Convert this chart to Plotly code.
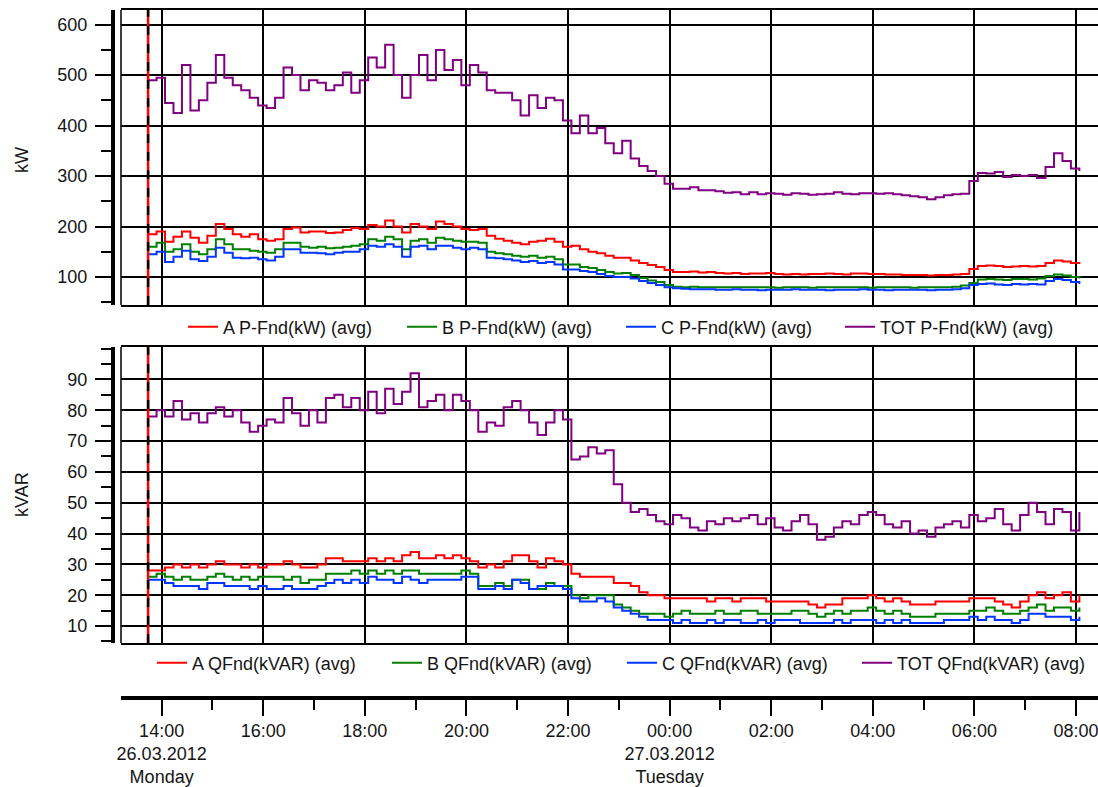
import pandas as pd
import plotly.graph_objects as go

W, H = 1098, 787

# ---------------- data (10-minute averages) ----------------
times = pd.date_range("2012-03-26 13:44", periods=111, freq="10min")

A_kw = [185,190,170,180,190,178,168,182,205,195, 185,180,185,175,172,175,195,198,188,190,
        190,187,188,193,197,195,203,200,212,200, 188,205,200,195,210,205,200,195,193,195,
        182,176,172,168,165,170,172,176,170,160, 162,155,150,147,142,138,138,133,128,124,
        120,114,110,110,111,109,110,108,107,108, 106,107,107,108,106,105,106,105,106,106,
        107,106,105,107,107,106,106,105,105,104, 104,104,103,104,104,105,106,116,122,123,
        122,120,121,122,121,122,128,133,131,128, 126]
B_kw = [160,168,150,155,165,150,145,155,175,165, 155,155,152,150,148,155,168,168,160,158,
        160,157,158,160,162,165,175,172,180,175, 155,172,175,168,178,175,172,170,170,168,
        150,147,145,142,140,142,138,140,135,125, 125,120,118,114,110,107,108,104,98,93,
        90,84,81,80,81,80,80,80,80,80, 80,80,80,80,79,80,80,80,79,80,
        80,80,80,80,80,79,80,80,80,80, 79,80,80,80,80,81,83,88,95,96,
        95,94,96,96,95,97,102,105,103,100, 97]
C_kw = [145,150,130,140,152,135,132,140,158,148, 138,137,138,135,133,140,155,155,148,148,
        147,145,148,150,150,155,162,160,165,160, 140,160,162,155,162,162,158,155,158,155,
        138,137,135,133,130,132,128,130,125,115, 115,112,110,106,102,100,100,97,92,88,
        84,80,78,77,76,76,76,75,75,76, 75,75,74,75,75,75,76,75,75,75,
        74,75,75,75,76,75,75,74,75,75, 75,75,74,75,75,76,78,84,86,87,
        85,84,86,85,86,85,92,96,94,90, 86]
TOT_kw = [490,495,445,425,520,430,450,485,540,495, 480,470,455,440,435,455,515,500,470,490,
          485,470,480,505,465,490,535,515,560,500, 455,500,540,490,550,510,530,480,520,505,
          470,465,465,450,420,460,435,455,450,410, 385,420,385,395,365,345,370,335,320,310,
          300,285,275,275,278,272,272,270,267,268, 264,268,264,266,265,263,266,265,263,264,
          265,268,265,264,266,266,265,266,264,262, 260,258,254,258,262,264,265,290,306,305,
          308,298,302,300,302,296,318,345,330,315, 310]

A_q = [28,28,29,30,29,30,29,30,31,30, 30,29,30,29,30,30,31,30,29,29,
       30,32,32,31,31,31,32,31,32,31, 33,34,32,32,33,32,33,32,31,29,
       30,29,31,33,33,31,29,32,31,30, 27,26,26,26,26,24,24,23,21,20,
       20,19,19,19,19,19,18,19,19,18, 19,19,19,18,18,18,18,18,17,16,
       17,17,19,19,19,20,19,18,19,18, 17,17,17,18,18,18,18,19,19,19,
       18,17,16,18,20,21,19,20,21,18, 20]
B_q = [26,27,26,25,26,25,25,26,27,26, 25,26,25,26,26,26,25,26,24,25,
       25,27,27,27,28,27,28,27,28,27, 28,28,27,27,27,27,27,28,27,23,
       23,24,23,25,25,22,22,24,23,23, 20,19,20,20,20,17,16,15,14,14,
       14,13,14,15,14,14,14,15,14,14, 15,15,14,14,14,14,15,15,14,13,
       14,15,14,15,15,16,15,14,15,14, 13,13,13,14,14,14,14,15,15,16,
       15,14,14,15,16,17,15,16,16,15, 16]
C_q = [25,25,24,23,23,23,22,24,24,23, 23,23,22,23,22,22,23,22,22,22,
       23,24,25,24,25,24,26,25,25,24, 26,25,24,25,25,25,25,26,26,22,
       22,23,22,25,24,22,23,23,23,22, 19,18,18,19,18,16,15,14,13,12,
       12,12,11,12,11,11,12,11,12,12, 11,11,12,11,12,12,12,11,11,11,
       11,12,11,12,12,12,11,12,11,12, 11,11,11,11,12,12,12,13,12,13,
       12,12,11,12,14,14,13,13,13,12, 13]
TOT_q = [78,80,78,83,77,79,76,79,81,78, 80,76,73,75,77,76,84,79,75,80,
         76,84,85,81,84,80,86,79,87,82, 86,92,81,83,85,80,85,83,80,73,
         76,75,81,83,80,76,72,76,80,77, 64,65,68,66,67,56,50,47,48,46,
         44,43,46,45,42,41,44,43,45,44, 45,46,43,45,42,41,44,46,43,38,
         39,42,44,43,46,47,46,43,42,44, 40,41,39,42,43,44,42,46,44,45,
         48,43,41,46,50,47,43,48,47,41, 47]

kw_names = ["A P-Fnd(kW) (avg)", "B P-Fnd(kW) (avg)", "C P-Fnd(kW) (avg)", "TOT P-Fnd(kW) (avg)"]
q_names = ["A QFnd(kVAR) (avg)", "B QFnd(kVAR) (avg)", "C QFnd(kVAR) (avg)", "TOT QFnd(kVAR) (avg)"]
colors = ["#ff0000", "#008000", "#0036ff", "#800080"]

kw_ticks = [100, 200, 300, 400, 500, 600]
q_ticks = [10, 20, 30, 40, 50, 60, 70, 80, 90]
time_ticks = pd.date_range("2012-03-26 14:00", periods=10, freq="2h")
time_labels = ["14:00<br>26.03.2012<br>Monday", "16:00", "18:00", "20:00", "22:00",
               "00:00<br>27.03.2012<br>Tuesday", "02:00", "04:00", "06:00", "08:00"]
x_range = ["2012-03-26 13:12", "2012-03-27 08:26"]
kw_range = [44.6, 629]
q_range = [4.5, 100.5]

# ---------------- figure ----------------
FONT = "Liberation Sans, Arial, sans-serif"
TXT = "#151515"
fig = go.Figure()

for ys, nm, c in zip([A_kw, B_kw, C_kw, TOT_kw], kw_names, colors):
    fig.add_trace(go.Scatter(x=times, y=ys, name=nm, mode="lines", line=dict(color=c, width=2, shape="hv"),
                             xaxis="x", yaxis="y", legend="legend"))
for ys, nm, c in zip([A_q, B_q, C_q, TOT_q], q_names, colors):
    fig.add_trace(go.Scatter(x=times, y=ys, name=nm, mode="lines", line=dict(color=c, width=2, shape="hv"),
                             xaxis="x2", yaxis="y2", legend="legend2"))
# invisible helpers so the decorative axes render
fig.add_trace(go.Scatter(x=times, y=TOT_kw, xaxis="x", yaxis="y3", mode="lines", opacity=0,
                         showlegend=False, hoverinfo="skip"))
fig.add_trace(go.Scatter(x=times, y=TOT_q, xaxis="x2", yaxis="y4", mode="lines", opacity=0,
                         showlegend=False, hoverinfo="skip"))
fig.add_trace(go.Scatter(x=times, y=[0.5] * len(times), xaxis="x3", yaxis="y5", mode="lines", opacity=0,
                         showlegend=False, hoverinfo="skip"))

xdom = [121 / W, 1.0]
def py(p):
    return 1 - p / H

grid_x = dict(domain=xdom, range=x_range, type="date", tickmode="array", tickvals=time_ticks,
              showticklabels=False, ticks="", showgrid=True, gridcolor="black", gridwidth=1.5,
              showline=True, mirror=True, linecolor="black", linewidth=1.5, zeroline=False,
              automargin=False)
grid_y = dict(showticklabels=False, ticks="", showgrid=True, gridcolor="black", gridwidth=1.5,
              showline=False, zeroline=False, tickmode="array", automargin=False)
tick_y = dict(anchor="free", position=113 / W, side="left", showgrid=False, zeroline=False,
              showline=True, linecolor="black", linewidth=4, ticks="outside", ticklen=16, tickwidth=2,
              tickcolor="black", tickmode="array", ticklabelstandoff=4, automargin=False,
              tickfont=dict(family=FONT, size=18, color=TXT))

fig.update_layout(
    width=W, height=H, margin=dict(l=0, r=0, t=0, b=0, autoexpand=False),
    paper_bgcolor="white", plot_bgcolor="white",
    font=dict(family=FONT, size=18, color=TXT),
    xaxis=dict(grid_x, anchor="y"),
    xaxis2=dict(grid_x, anchor="y2", matches="x"),
    yaxis=dict(grid_y, domain=[py(305), py(10)], range=kw_range, tickvals=kw_ticks),
    yaxis2=dict(grid_y, domain=[py(643), py(347)], range=q_range, tickvals=q_ticks),
    yaxis3=dict(tick_y, overlaying="y", range=kw_range, tickvals=kw_ticks,
                minor=dict(tickmode="linear", tick0=0, dtick=50, ticklen=10, tickwidth=2, tickcolor="black",
                           ticks="outside", showgrid=False)),
    yaxis4=dict(tick_y, overlaying="y2", range=q_range, tickvals=q_ticks,
                minor=dict(tickmode="linear", tick0=0, dtick=5, ticklen=10, tickwidth=2, tickcolor="black",
                           ticks="outside", showgrid=False)),
    xaxis3=dict(domain=xdom, anchor="y5", range=x_range, type="date", tickmode="array",
                tickvals=time_ticks, ticktext=time_labels, showgrid=False, zeroline=False,
                showline=True, linecolor="black", linewidth=4, ticks="outside", ticklen=16, tickwidth=2,
                tickcolor="black", ticklabelstandoff=-1, automargin=False, ticklabeloverflow="allow",
                tickfont=dict(family=FONT, size=18, color=TXT),
                minor=dict(tickmode="linear", tick0="2012-03-26 13:00", dtick=3600000, ticklen=10,
                           tickwidth=2, tickcolor="black", ticks="outside", showgrid=False)),
    yaxis5=dict(domain=[py(696), py(694)], range=[0, 1], visible=False, automargin=False),
    legend=dict(orientation="h", x=621 / W, xanchor="center", y=py(327), yanchor="middle",
                font=dict(family=FONT, size=18, color=TXT), bgcolor="rgba(0,0,0,0)", itemwidth=30,
                entrywidth=174, entrywidthmode="pixels"),
    legend2=dict(orientation="h", x=622 / W, xanchor="center", y=py(663), yanchor="middle",
                 font=dict(family=FONT, size=18, color=TXT), bgcolor="rgba(0,0,0,0)", itemwidth=30,
                 entrywidth=190, entrywidthmode="pixels"),
    showlegend=True,
)

shapes = []
for xr, yr in [("x", "y"), ("x2", "y2")]:
    shapes.append(dict(type="line", xref=xr + " domain", x0=0, x1=0, yref=yr + " domain", y0=0, y1=1,
                       line=dict(color="black", width=1.5)))
    shapes.append(dict(type="line", xref=xr, x0=times[0], x1=times[0], yref=yr + " domain", y0=0, y1=1,
                       line=dict(color="#ff0000", width=2.5)))
    shapes.append(dict(type="line", xref=xr, x0=times[0], x1=times[0], yref=yr + " domain", y0=0, y1=1,
                       line=dict(color="black", width=2.5, dash="dash")))
fig.update_layout(shapes=shapes)

fig.add_annotation(text="kW", x=22 / W, y=py(160), xref="paper", yref="paper", textangle=-90,
                   xanchor="center", yanchor="middle",
                   showarrow=False, font=dict(family=FONT, size=18, color=TXT))
fig.add_annotation(text="kVAR", x=22 / W, y=py(495), xref="paper", yref="paper", textangle=-90,
                   xanchor="center", yanchor="middle",
                   showarrow=False, font=dict(family=FONT, size=18, color=TXT))

fig.write_html("out.html", config={"displayModeBar": False},
               post_script="document.body.style.margin='0px';document.body.style.overflow='hidden';")
